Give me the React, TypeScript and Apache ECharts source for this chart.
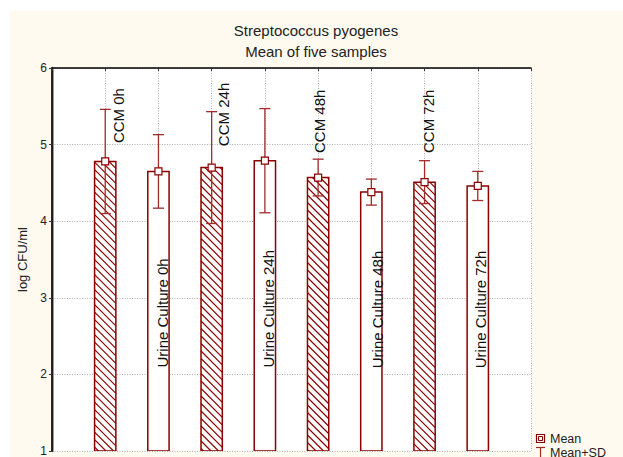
import React, { useEffect, useRef } from "react";
import * as echarts from "echarts";

const titleLines = ["Streptococcus pyogenes", "Mean of five samples"];
const categories = [
  "CCM 0h",
  "Urine Culture 0h",
  "CCM 24h",
  "Urine Culture 24h",
  "CCM 48h",
  "Urine Culture 48h",
  "CCM 72h",
  "Urine Culture 72h",
];
const means = [4.78, 4.65, 4.7, 4.79, 4.57, 4.38, 4.51, 4.46];
const sds = [0.68, 0.48, 0.73, 0.68, 0.24, 0.17, 0.28, 0.19];
// where each rotated text label starts (x in category units, y in log CFU/ml)
const labelX = [1.25, 2.08, 3.23, 4.07, 5.03, 6.11, 7.07, 8.06];
const labelY = [5.02, 2.09, 4.98, 2.09, 4.89, 2.08, 4.89, 2.08];
const yTicks = [1, 2, 3, 4, 5, 6];
const legendItems = ["Mean", "Mean+SD"];

const RED = "#8b0000";
const ERR = "#a02c2c";
const FONT = "'Liberation Sans', Arial, sans-serif";

export default function App() {
  const ref = useRef<HTMLDivElement>(null);
  useEffect(() => {
    if (!ref.current) return;
    const chart = echarts.init(ref.current, undefined, { renderer: "svg" });
    const barData = categories.map((c, i) => [i + 1, means[i], sds[i], c.startsWith("CCM") ? 1 : 0]);
    const labelData = categories.map((c, i) => [labelX[i], labelY[i]]);
    const option: any = {
      animation: false,
      backgroundColor: "#fffaf0",
      textStyle: { fontFamily: FONT },
      grid: { left: 52, right: 92, top: 68, bottom: 0, show: true, backgroundColor: "#ffffff", borderWidth: 0 },
      xAxis: [
        {
          type: "value", min: 0, max: 9, interval: 1, position: "bottom",
          axisLine: { show: false }, axisTick: { show: false }, axisLabel: { show: false },
          splitLine: { show: true, lineStyle: { color: "#b0b0b0", type: [1, 1.5], width: 1 } },
        },
        {
          type: "value", min: 0, max: 9, interval: 1, position: "top",
          axisLine: { show: true, lineStyle: { color: "#000", width: 1.5 } },
          axisTick: { show: true, inside: true, length: 3, lineStyle: { color: "#333" } },
          axisLabel: { show: false }, splitLine: { show: false },
        },
      ],
      yAxis: [
        {
          type: "value", min: yTicks[0], max: yTicks[yTicks.length - 1], interval: 1, position: "left",
          axisLine: { show: true, lineStyle: { color: "#7a7a7a", width: 2.5 } },
          axisTick: { show: true, inside: false, length: 3, lineStyle: { color: "#444" } },
          axisLabel: { show: true, fontSize: 12, color: "#222", margin: 5, fontFamily: FONT },
          splitLine: { show: true, lineStyle: { color: "#b0b0b0", type: [1, 1.5], width: 1 } },
          name: "log CFU/ml", nameLocation: "middle", nameGap: 22,
          nameTextStyle: { fontSize: 13, color: "#222", fontFamily: FONT },
        },
        {
          type: "value", min: yTicks[0], max: yTicks[yTicks.length - 1], interval: 1, position: "right",
          axisLine: { show: true, lineStyle: { color: "#000", width: 1.5 } },
          axisTick: { show: true, inside: true, length: 3, lineStyle: { color: "#333" } },
          axisLabel: { show: false }, splitLine: { show: false },
        },
      ],
      series: [
        {
          type: "custom",
          xAxisIndex: 0,
          yAxisIndex: 0,
          data: barData,
          clip: true,
          renderItem: (params: any, api: any) => {
            const x = api.value(0);
            const m = api.value(1);
            const sd = api.value(2);
            const hatched = api.value(3) === 1;
            const base = api.coord([x, 1]);
            const top = api.coord([x, m]);
            const hi = api.coord([x, m + sd]);
            const lo = api.coord([x, m - sd]);
            const bw = api.size([1, 0])[0] * 0.4;
            const x0 = base[0] - bw / 2;
            const x1 = base[0] + bw / 2;
            const y0 = top[1];
            const y1 = base[1];
            const children: any[] = [
              { type: "rect", shape: { x: x0, y: y0, width: bw, height: y1 - y0 }, style: { fill: "#fff", stroke: null } },
            ];
            if (hatched) {
              const S = 7.5;
              const cStart = Math.ceil((y0 - x1) / S) * S;
              for (let c = cStart; c <= y1 - x0; c += S) {
                const xs = Math.max(x0, y0 - c);
                const xe = Math.min(x1, y1 - c);
                if (xe > xs) {
                  children.push({
                    type: "line",
                    shape: { x1: xs, y1: xs + c, x2: xe, y2: xe + c },
                    style: { stroke: RED, lineWidth: 1.2 },
                  });
                }
              }
            }
            children.push({
              type: "rect",
              shape: { x: x0, y: y0, width: bw, height: y1 - y0 },
              style: { fill: "none", stroke: RED, lineWidth: 1.5 },
            });
            const cw = 5.5;
            children.push(
              { type: "line", shape: { x1: base[0], y1: hi[1], x2: base[0], y2: lo[1] }, style: { stroke: ERR, lineWidth: 1.3 } },
              { type: "line", shape: { x1: base[0] - cw, y1: hi[1], x2: base[0] + cw, y2: hi[1] }, style: { stroke: ERR, lineWidth: 1.3 } },
              { type: "line", shape: { x1: base[0] - cw, y1: lo[1], x2: base[0] + cw, y2: lo[1] }, style: { stroke: ERR, lineWidth: 1.3 } },
              { type: "rect", shape: { x: base[0] - 3.5, y: top[1] - 3.5, width: 7, height: 7 }, style: { fill: "#fff", stroke: RED, lineWidth: 1.2 } }
            );
            return { type: "group", children };
          },
          z: 3,
        },
        {
          type: "custom",
          xAxisIndex: 0,
          yAxisIndex: 0,
          data: labelData,
          renderItem: (params: any, api: any) => {
            const p = api.coord([api.value(0), api.value(1)]);
            return {
              type: "text",
              x: p[0],
              y: p[1],
              rotation: Math.PI / 2,
              style: {
                text: categories[params.dataIndex],
                align: "left",
                verticalAlign: "middle",
                font: `15px ${FONT}`,
                fill: "#111",
              },
            };
          },
          z: 5,
        },
      ],
      graphic: [
        { type: "rect", shape: { x: 0, y: 0, width: 623, height: 11 }, style: { fill: "#fff" }, z: 100 },
        { type: "rect", shape: { x: 0, y: 0, width: 10, height: 457 }, style: { fill: "#fff" }, z: 100 },
        {
          type: "text", x: 316, y: 30,
          style: { text: titleLines[0], font: `15px ${FONT}`, fill: "#222", align: "center", verticalAlign: "middle" },
        },
        {
          type: "text", x: 316, y: 51.5,
          style: { text: titleLines[1], font: `15px ${FONT}`, fill: "#222", align: "center", verticalAlign: "middle" },
        },
        { type: "rect", shape: { x: 536.5, y: 434.5, width: 8, height: 8 }, style: { fill: "#fff", stroke: RED, lineWidth: 1.2 } },
        { type: "rect", shape: { x: 538.5, y: 436.5, width: 4, height: 4 }, style: { fill: "#fff", stroke: RED, lineWidth: 1 } },
        {
          type: "text", x: 550, y: 438.5,
          style: { text: legendItems[0], font: `12.5px ${FONT}`, fill: "#222", align: "left", verticalAlign: "middle" },
        },
        { type: "line", shape: { x1: 536, y1: 447.5, x2: 545, y2: 447.5 }, style: { stroke: ERR, lineWidth: 1.2 } },
        { type: "line", shape: { x1: 540.5, y1: 447.5, x2: 540.5, y2: 457 }, style: { stroke: ERR, lineWidth: 1.2 } },
        {
          type: "text", x: 550, y: 452.5,
          style: { text: legendItems[1], font: `12.5px ${FONT}`, fill: "#222", align: "left", verticalAlign: "middle" },
        },
      ],
    };
    chart.setOption(option);
    return () => chart.dispose();
  }, []);
  return (
    <div
      ref={ref}
      style={{ position: "fixed", left: 0, top: 0, width: 623, height: 457 }}
    />
  );
}
